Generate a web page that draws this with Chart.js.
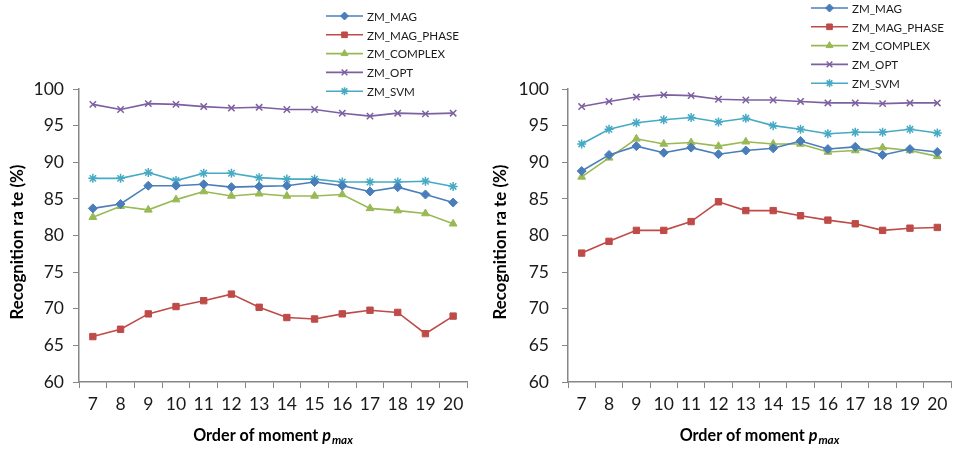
<!DOCTYPE html>
<html><head><meta charset="utf-8">
<script src="https://cdn.jsdelivr.net/npm/chart.js@4/dist/chart.umd.min.js"></script>
<style>
html,body{margin:0;padding:0;background:#fff;overflow:hidden;}
#wrap{position:relative;width:954px;height:450px;overflow:hidden;}
canvas{position:absolute;top:0;}
</style></head><body>
<div id="wrap">
<canvas id="c1" width="477" height="450" style="left:0"></canvas>
<canvas id="c2" width="480" height="450" style="left:477px"></canvas>
</div>
<script>
const categories = ['7','8','9','10','11','12','13','14','15','16','17','18','19','20'];
const seriesNames = ['ZM_MAG','ZM_MAG_PHASE','ZM_COMPLEX','ZM_OPT','ZM_SVM'];
const yTicks = [60,65,70,75,80,85,90,95,100];

const leftMag     = [83.7,84.3,86.8,86.8,87.0,86.6,86.7,86.8,87.3,86.8,86.0,86.6,85.6,84.5];
const leftPhase   = [66.2,67.2,69.3,70.3,71.1,72.0,70.2,68.8,68.6,69.3,69.8,69.5,66.6,69.0];
const leftComplex = [82.5,84.0,83.5,84.9,86.0,85.4,85.7,85.4,85.4,85.6,83.7,83.4,83.0,81.6];
const leftOpt     = [97.9,97.2,98.0,97.9,97.6,97.4,97.5,97.2,97.2,96.7,96.3,96.7,96.6,96.7];
const leftSvm     = [87.8,87.8,88.6,87.5,88.5,88.5,87.9,87.7,87.7,87.3,87.3,87.3,87.4,86.7];

const rightMag     = [88.8,91.0,92.2,91.3,92.0,91.1,91.6,91.9,92.9,91.8,92.1,91.0,91.8,91.4];
const rightPhase   = [77.6,79.2,80.7,80.7,81.9,84.6,83.4,83.4,82.7,82.1,81.6,80.7,81.0,81.1];
const rightComplex = [88.0,90.6,93.2,92.5,92.7,92.2,92.8,92.5,92.5,91.4,91.6,92.0,91.6,90.8];
const rightOpt     = [97.6,98.3,98.9,99.2,99.1,98.6,98.5,98.5,98.3,98.1,98.1,98.0,98.1,98.1];
const rightSvm     = [92.5,94.5,95.4,95.8,96.1,95.5,96.0,95.0,94.5,93.9,94.1,94.1,94.5,94.0];

const colors = ['#4A7EBB','#BE4B48','#98B954','#7D60A0','#46AAC5'];
const pointStyles = ['rectRot','rect','triangle','crossRot','star'];
const pointRadii = [4.5,4.5,4.5,4.5,4.5];

const FONT = 'Lato, "Liberation Sans", sans-serif';

function fitSize(ctx, weight, text, target){
  ctx.font = weight + ' 100px ' + FONT;
  return 100 * target / ctx.measureText(text).width;
}

function makeDatasets(arrs){
  return arrs.map((d,i)=>({
    label: seriesNames[i],
    data: d,
    borderColor: colors[i],
    backgroundColor: colors[i],
    pointBackgroundColor: colors[i],
    pointBorderColor: colors[i],
    pointStyle: pointStyles[i],
    pointRadius: pointRadii[i],
    pointBorderWidth: (pointStyles[i]==='crossRot'||pointStyles[i]==='star')?1.5:1,
    borderWidth: 1.6,
    tension: 0,
    fill: false
  }));
}

function legendAndTitles(opts){
  return {
    id: 'customDecor',
    afterDraw(chart){
      const ctx = chart.ctx;
      const ca = chart.chartArea;
      ctx.save();
      // legend
      const legSize = fitSize(ctx, 'normal', 'ZM_MAG_PHASE', 92);
      chart.data.datasets.forEach((ds,i)=>{
        const y = opts.legendY + i*opts.legendStep;
        ctx.strokeStyle = ds.borderColor;
        ctx.lineWidth = 1.6;
        ctx.beginPath();
        ctx.moveTo(opts.legendX, y);
        ctx.lineTo(opts.legendX+37, y);
        ctx.stroke();
        const mx = opts.legendX+18.5;
        if (Chart.helpers && Chart.helpers.drawPoint){
          ctx.fillStyle = ds.pointBackgroundColor;
          ctx.strokeStyle = ds.pointBorderColor;
          ctx.lineWidth = ds.pointBorderWidth;
          Chart.helpers.drawPoint(ctx, {pointStyle: ds.pointStyle, radius: ds.pointRadius-0.5, rotation:0, borderWidth: ds.pointBorderWidth}, mx, y);
        }
        ctx.fillStyle = '#1a1a1a';
        ctx.font = legSize.toFixed(2) + 'px ' + FONT;
        ctx.textAlign = 'left';
        ctx.textBaseline = 'middle';
        ctx.fillText(ds.label, opts.legendX+41, y+1);
      });
      // y title
      const yText = 'Recognition ra te (%)';
      const ySize = fitSize(ctx, 'bold', yText, 155);
      ctx.save();
      ctx.translate(opts.yTitleX, 242);
      ctx.rotate(-Math.PI/2);
      ctx.font = 'bold ' + ySize.toFixed(2) + 'px ' + FONT;
      ctx.fillStyle = '#000';
      ctx.textAlign = 'center';
      ctx.textBaseline = 'middle';
      ctx.fillText(yText, 0, 0);
      ctx.restore();
      // x title
      const y = 436;
      const t1 = 'Order of moment ', t2 = 'p', t3 = 'max';
      const s = fitSize(ctx, 'bold', t1 + t2 + 'ma', 160);
      const f1 = 'bold ' + s.toFixed(2) + 'px ' + FONT, f2 = 'bold italic ' + s.toFixed(2) + 'px ' + FONT, f3 = 'bold italic ' + (s*0.72).toFixed(2) + 'px ' + FONT;
      ctx.font = f1; const w1 = ctx.measureText(t1).width;
      ctx.font = f2; const w2 = ctx.measureText(t2).width;
      ctx.font = f3; const w3 = ctx.measureText(t3).width;
      let x = (ca.left+ca.right)/2 - (w1+w2+w3+1)/2;
      ctx.fillStyle = '#000';
      ctx.textAlign = 'left';
      ctx.textBaseline = 'middle';
      ctx.font = f1; ctx.fillText(t1, x, y); x += w1;
      ctx.font = f2; ctx.fillText(t2, x, y); x += w2 + 1;
      ctx.font = f3; ctx.fillText(t3, x, y + 4);
      ctx.restore();
    }
  };
}

function makeChart(id, arrs, opts){
  return new Chart(document.getElementById(id), {
    type: 'line',
    data: { labels: categories, datasets: makeDatasets(arrs) },
    options: {
      responsive: false,
      animation: false,
      devicePixelRatio: 1,
      layout: { padding: { left: 0, top: 89, right: opts.padRight, bottom: 0 } },
      plugins: { legend: { display: false }, tooltip: { enabled: false } },
      scales: {
        x: {
          type: 'category',
          offset: true,
          grid: { display: true, offset: true, drawOnChartArea: false, drawTicks: true, tickLength: 6, color: '#868686', lineWidth: 1 },
          border: { display: true, color: '#868686', width: 1.5 },
          ticks: { color: '#1a1a1a', font: { family: FONT, size: 17.5 }, padding: 6, maxRotation: 0, autoSkip: false },
          afterFit(scale){ scale.height = 68; }
        },
        y: {
          min: 60, max: 100,
          afterBuildTicks(scale){ scale.ticks = yTicks.map(v=>({value:v})); },
          grid: { display: true, drawOnChartArea: false, drawTicks: true, tickLength: 6, color: '#868686', lineWidth: 1 },
          border: { display: true, color: '#868686', width: 1.5 },
          ticks: { color: '#1a1a1a', font: { family: FONT, size: 17.5 }, padding: opts.yPad },
          afterFit(scale){ scale.width = opts.yWidth; }
        }
      }
    },
    plugins: [legendAndTitles(opts)]
  });
}

makeChart('c1', [leftMag,leftPhase,leftComplex,leftOpt,leftSvm],
  { padRight: 10, yWidth: 79, yPad: 9, legendX: 326, legendY: 16, legendStep: 18.8, yTitleX: 18 });
makeChart('c2', [rightMag,rightPhase,rightComplex,rightOpt,rightSvm],
  { padRight: 1, yWidth: 91, yPad: 13, legendX: 334, legendY: 8, legendStep: 18.8, yTitleX: 24 });
</script>
</body></html>
